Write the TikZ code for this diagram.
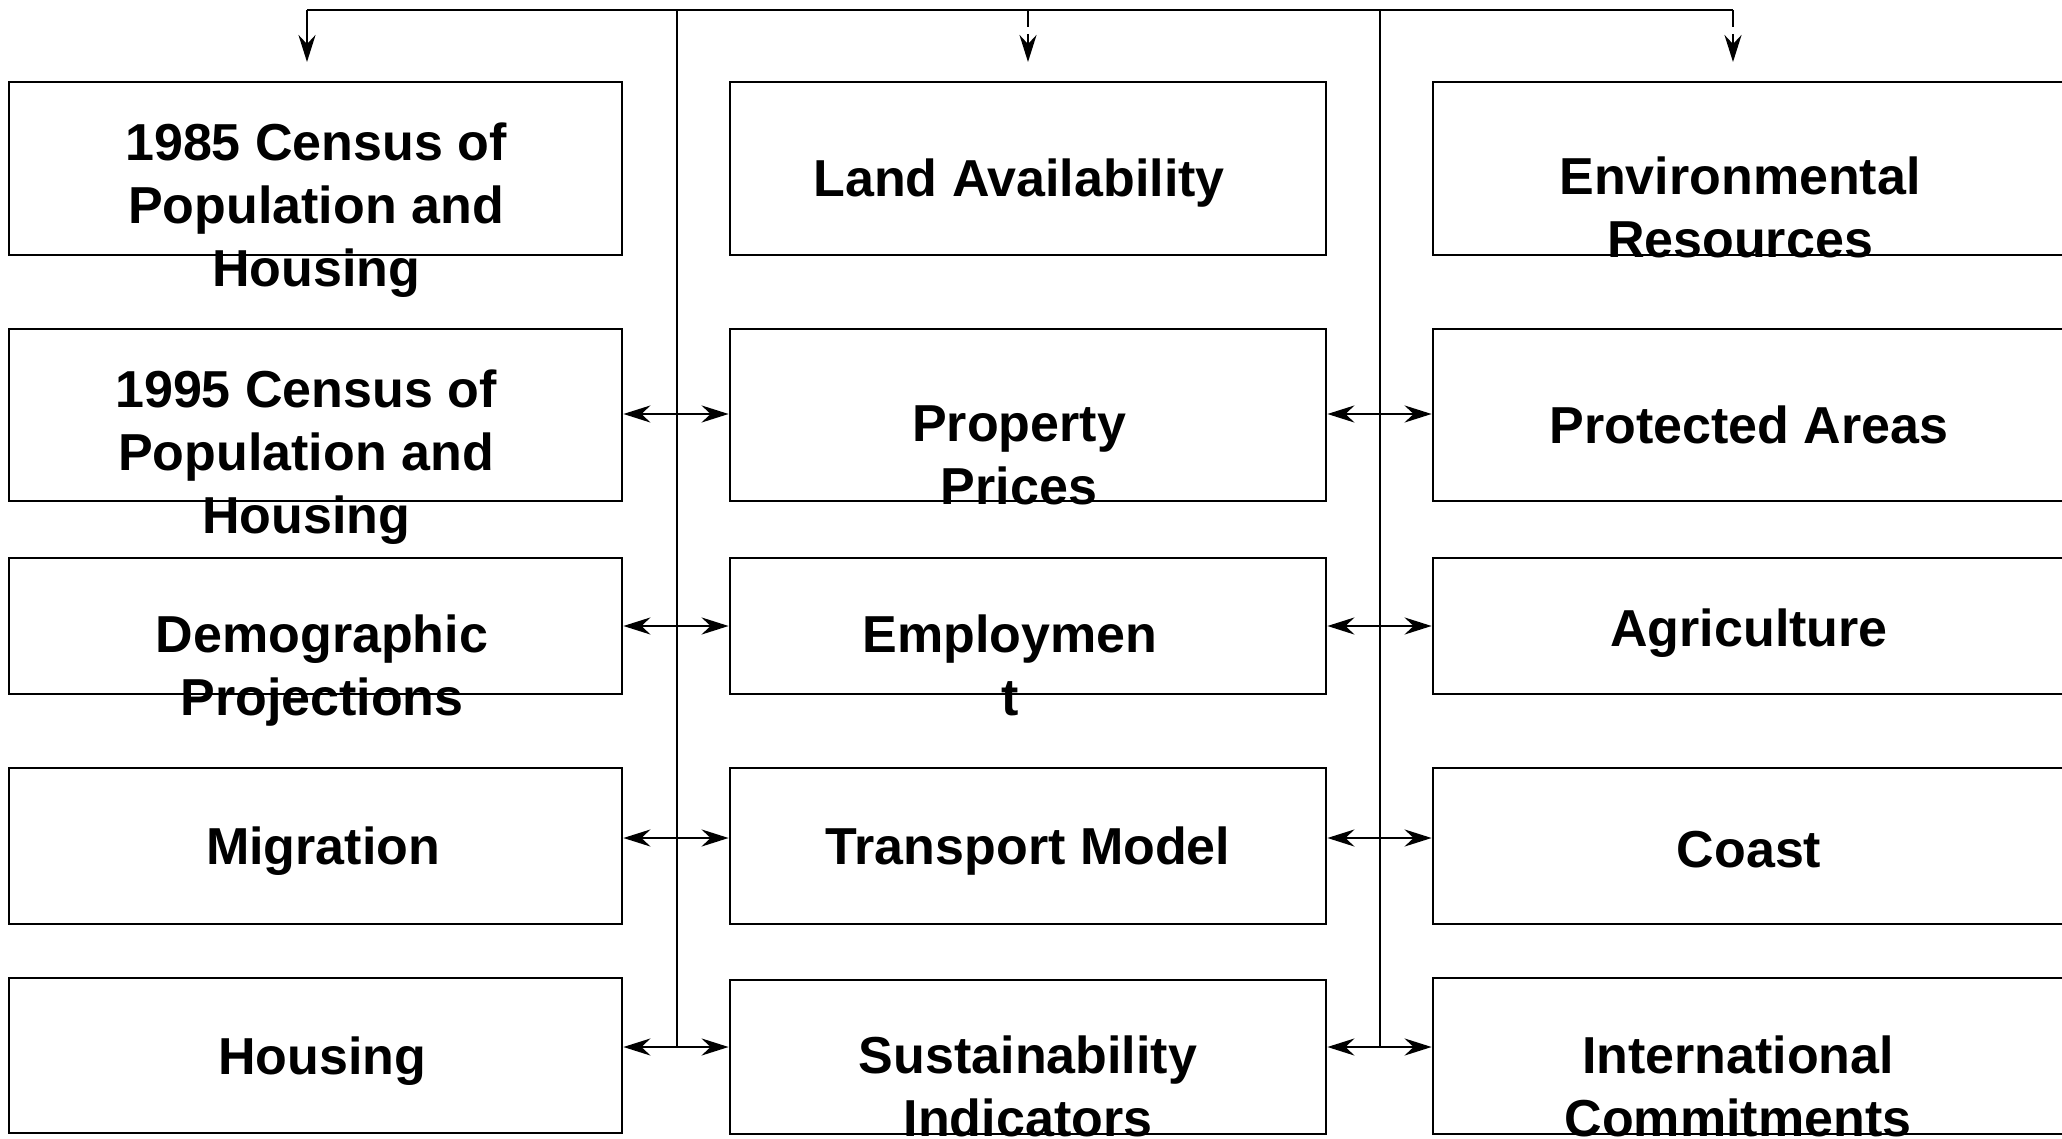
\documentclass[tikz,border=0pt]{standalone}
\usepackage{fontspec}
\setmainfont{Liberation Sans}
\usetikzlibrary{arrows.meta}
\begin{document}
\begin{tikzpicture}[x=1pt, y=-1pt, line width=2.8pt]
	\tikzstyle{box}    = [rectangle, draw=black, inner sep=0pt]
	\tikzstyle{lbl}    = [align=center, inner sep=0pt, font=\fontsize{52}{63}\selectfont\bfseries, execute at begin node=\strut, execute at end node=\strut]
	\tikzstyle{oneway} = [-{Stealth[length=27pt, width=17pt, inset=9pt]}]
	\tikzstyle{twoway} = [{Stealth[length=27pt, width=17pt, inset=9pt]}-{Stealth[length=27pt, width=17pt, inset=9pt]}]

	\useasboundingbox (0,0) rectangle (2062,1139);

	\foreach \name/\x/\y/\w/\h in {census85/315.5/168.5/613/173, census95/315.5/415/613/172, demog/315.5/626/613/136, migr/315.5/846/613/156, housing/315.5/1055.5/613/155,
			land/1028/168.5/596/173, prop/1028/415/596/172, employ/1028/626/596/136, transport/1028/846/596/156, sustain/1028/1057/596/154,
			env/1756.5/168.5/647/173, protect/1756.5/415/647/172, agri/1756.5/626/647/136, coast/1756.5/846/647/156, intl/1756.5/1056/647/156}
		\node[box, minimum width=\w pt, minimum height=\h pt] (\name) at (\x, \y) {};

	\foreach \name/\x/\y/\txt in {census85-t/316/214/{1985 Census of\\Population and\\Housing}, census95-t/306/461/{1995 Census of\\Population and\\Housing}, demog-t/322/675/{Demographic\\Projections}, migr-t/323/852/{Migration}, housing-t/322/1062/{Housing},
			land-t/1019/184/{Land Availability}, prop-t/1019/465/{Property\\Prices}, employ-t/1010/675/{Employmen\\t}, transport-t/1028/852/{Transport Model}, sustain-t/1028/1096/{Sustainability\\Indicators},
			env-t/1740/217/{Environmental\\Resources}, protect-t/1749/431/{Protected Areas}, agri-t/1749/634/{Agriculture}, coast-t/1749/855/{Coast}, intl-t/1738/1096/{International\\Commitments}}
		\node[lbl] (\name) at (\x, \y) {\txt};

%	top line and the two buses
	\coordinate (hubA) at (677, 10);
	\coordinate (hubB) at (1380, 10);
	\coordinate (dropA) at (307, 10);
	\coordinate (dropB) at (1028, 10);
	\coordinate (dropC) at (1733, 10);
	\draw (dropA) -- (dropC);
	\draw[oneway] (dropA) -- ++(0,52);
	\foreach \d in {dropB, dropC} {
		\draw (\d) -- ++(0,17);
		\draw[oneway] ([yshift=-24pt]\d) -- ++(0,28);
	}
	\draw (hubA) |- ++(16,1037);
	\draw (hubB) |- ++(-16,1037);

	\foreach \from/\to/\y in {census95/prop/414, demog/employ/626, migr/transport/838, housing/sustain/1047, prop/protect/414, employ/agri/626, transport/coast/838, sustain/intl/1047}
		\draw[twoway] (\from.east |- 0,\y) -- (\to.west |- 0,\y);
\end{tikzpicture}
\end{document}
